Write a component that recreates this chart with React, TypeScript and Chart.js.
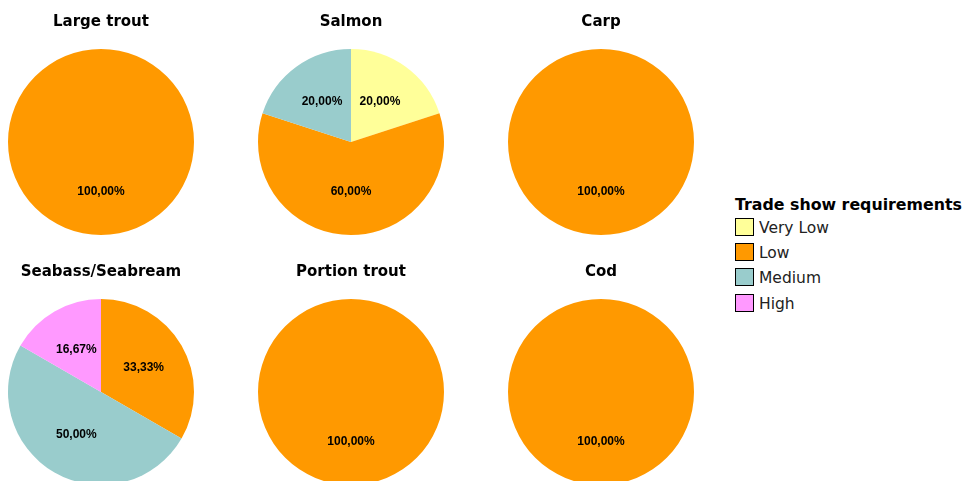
import { useEffect, useRef } from "react";
import { Chart, registerables } from "chart.js";

Chart.register(...registerables);

const levels = ["Very Low", "Low", "Medium", "High"];
const levelColors = ["#FFFF99", "#FF9900", "#99CCCC", "#FF99FF"];
const legendTitle = "Trade show requirements";

const species = ["Large trout", "Salmon", "Carp", "Seabass/Seabream", "Portion trout", "Cod"];
// counts per level: Very Low, Low, Medium, High
const largeTrout = [0, 1, 0, 0];
const salmon = [1, 3, 1, 0];
const carp = [0, 1, 0, 0];
const seabass = [0, 2, 3, 1];
const portionTrout = [0, 1, 0, 0];
const cod = [0, 1, 0, 0];

const seriesList = [largeTrout, salmon, carp, seabass, portionTrout, cod];

const pctLabels = {
  id: "pctLabels",
  afterDatasetsDraw(chart: any) {
    const ctx = chart.ctx;
    const meta = chart.getDatasetMeta(0);
    const data = chart.data.datasets[0].data as number[];
    const total = data.reduce((a, b) => a + b, 0);
    ctx.save();
    ctx.font = "bold 12px 'Liberation Sans', Arial, sans-serif";
    ctx.fillStyle = "#000";
    ctx.textAlign = "center";
    ctx.textBaseline = "middle";
    meta.data.forEach((arc: any, i: number) => {
      const v = data[i];
      if (!v) return;
      const p = arc.getProps(["x", "y", "startAngle", "endAngle", "outerRadius"], true);
      const mid = (p.startAngle + p.endAngle) / 2;
      const r = p.outerRadius * 0.53;
      const txt = ((v / total) * 100).toFixed(2).replace(".", ",") + "%";
      ctx.fillText(txt, p.x + Math.cos(mid) * r, p.y + Math.sin(mid) * r);
    });
    ctx.restore();
  },
};

function Pie({ title, values, left, top }: { title: string; values: number[]; left: number; top: number }) {
  const ref = useRef<HTMLCanvasElement>(null);
  useEffect(() => {
    const chart = new Chart(ref.current!, {
      type: "pie",
      data: {
        labels: levels,
        datasets: [
          {
            data: values,
            backgroundColor: levelColors,
            borderWidth: 0,
          },
        ],
      },
      options: {
        animation: false,
        responsive: false,
        maintainAspectRatio: false,
        layout: { padding: { top: 0, bottom: 15, left: 0, right: 0 } },
        plugins: {
          legend: { display: false },
          tooltip: { enabled: false },
          title: {
            display: true,
            text: title,
            color: "#000",
            font: { family: "'DejaVu Sans', Verdana, sans-serif", size: 15, weight: "bold" },
            padding: { top: 13, bottom: 18 },
          },
        },
      },
      plugins: [pctLabels],
    });
    return () => chart.destroy();
  }, [title, values]);
  return (
    <canvas
      ref={ref}
      width={200}
      height={250}
      style={{ position: "absolute", left, top, width: 200, height: 250 }}
    />
  );
}

export default function App() {
  const centersX = [101, 351, 601];
  return (
    <div
      style={{
        position: "fixed",
        left: 0,
        top: 0,
        width: 966,
        height: 481,
        overflow: "hidden",
        background: "#fff",
      }}
    >
      {species.map((s, i) => (
        <Pie
          key={s}
          title={s}
          values={seriesList[i]}
          left={centersX[i % 3] - 100}
          top={i < 3 ? 0 : 250}
        />
      ))}
      <div
        style={{
          position: "absolute",
          left: 735,
          top: 195,
          font: "bold 15.8px 'DejaVu Sans', Verdana, sans-serif",
          lineHeight: "20px",
          color: "#000",
          whiteSpace: "nowrap",
        }}
      >
        {legendTitle}
      </div>
      {levels.map((lv, i) => {
        const cy = [227, 252, 277, 303][i];
        return (
          <div key={lv} style={{ position: "absolute", left: 735, top: cy - 9, height: 18, display: "flex", alignItems: "center" }}>
            <div
              style={{
                width: 19,
                height: 18,
                boxSizing: "border-box",
                border: "1px solid #000",
                background: levelColors[i],
              }}
            />
            <span
              style={{
                marginLeft: 5,
                marginTop: 2,
                font: "15.5px 'DejaVu Sans', Verdana, sans-serif",
                color: "#222",
                whiteSpace: "nowrap",
              }}
            >
              {lv}
            </span>
          </div>
        );
      })}
    </div>
  );
}
